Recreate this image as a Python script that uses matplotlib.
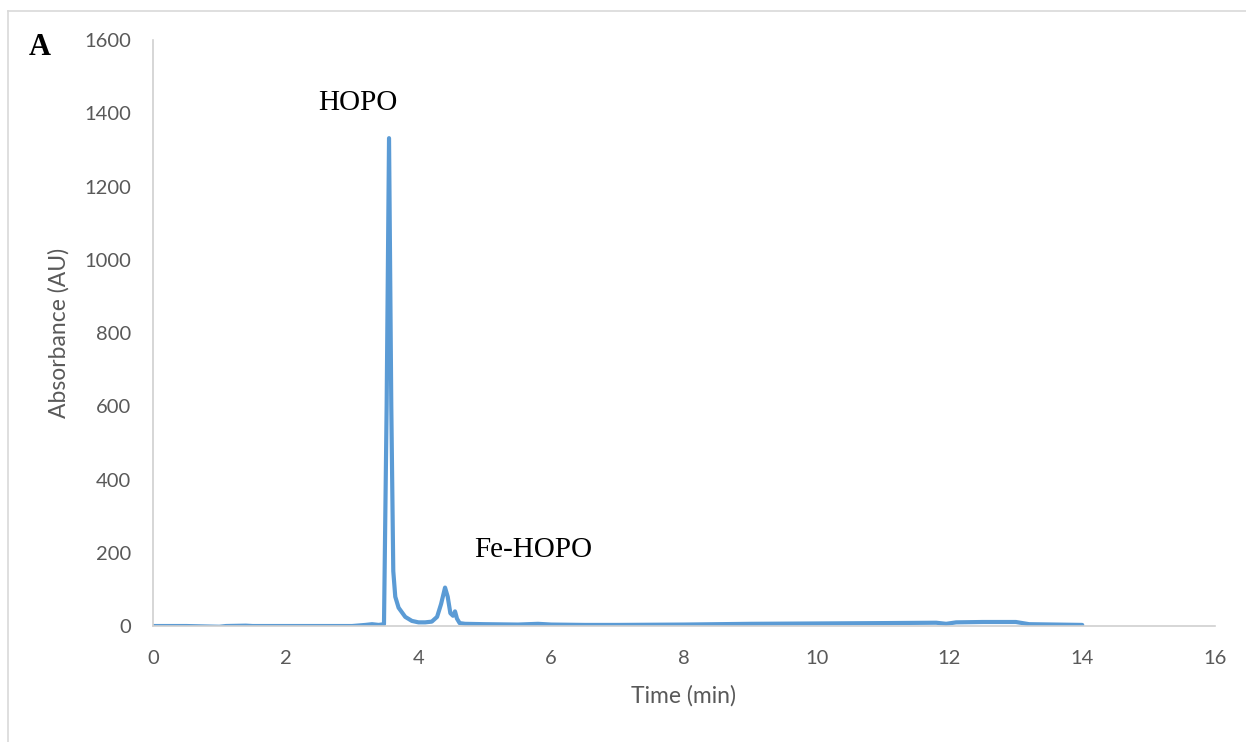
import matplotlib.pyplot as plt
from matplotlib.lines import Line2D

# chromatogram trace
time_min = [0, 0.5, 1.0, 1.1, 1.4, 1.5, 2.0, 2.5, 3.0, 3.2, 3.3, 3.4, 3.48,
            3.52, 3.556, 3.59, 3.62, 3.65, 3.70, 3.80, 3.90, 4.00, 4.10, 4.20,
            4.28, 4.34, 4.40, 4.44, 4.48, 4.52, 4.55, 4.58, 4.62, 4.70, 5.0,
            5.5, 5.8, 6.0, 6.5, 7, 8, 9, 10, 11, 11.8, 11.95, 12.1, 12.5, 13.0,
            13.2, 14.0]
absorbance = [0, 0, -2, 0, 1, 0, 0, 0, 0, 3, 5, 3, 5,
              600, 1332, 600, 150, 80, 50, 25, 14, 10, 10, 12,
              25, 60, 105, 80, 35, 28, 40, 20, 8, 6, 5,
              4, 6, 4, 3, 3, 4, 6, 7, 8, 9, 6, 10, 11, 11,
              5, 3]

peak_labels = ["HOPO", "Fe-HOPO"]
peak_label_pos = [(3.09, 1409), (5.73, 188)]

fig = plt.figure(figsize=(12.46, 7.42), dpi=100)
ax = fig.add_axes([0.1228, 0.1563, 0.8523, 0.7898])

ax.plot(time_min, absorbance, color="#5B9BD5", lw=3, solid_joinstyle="round",
        solid_capstyle="round")

ax.set_xlim(0, 16)
ax.set_ylim(0, 1600)
ax.set_xticks(range(0, 17, 2))
ax.set_yticks(range(0, 1601, 200))

for s in ["top", "right"]:
    ax.spines[s].set_visible(False)
for s in ["left", "bottom"]:
    ax.spines[s].set_color("#d0d0d0")
    ax.spines[s].set_linewidth(1.2)
ax.tick_params(length=0, labelsize=14.5, labelcolor="#595959")
ax.tick_params(axis="x", pad=17)
ax.tick_params(axis="y", pad=16)
for lab in ax.get_xticklabels() + ax.get_yticklabels():
    lab.set_family("Lato")

ax.set_xlabel("Time (min)", fontsize=16.5, color="#595959", family="Lato", labelpad=13)
ax.set_ylabel("Absorbance (AU)", fontsize=16.5, color="#595959", family="Lato", labelpad=10)

for txt, (x, y) in zip(peak_labels, peak_label_pos):
    ax.text(x, y, txt, ha="center", va="baseline", fontsize=21,
            family="Liberation Serif")

fig.text(0.023, 0.926, "A", fontsize=22, fontweight="bold", family="Liberation Serif")

# light frame around the figure (top and left edges)
fig.add_artist(Line2D([8 / 1246, 1], [1 - 11 / 742] * 2, color="#d9d9d9", lw=1.2,
                      transform=fig.transFigure))
fig.add_artist(Line2D([8 / 1246] * 2, [0, 1 - 11 / 742], color="#d9d9d9", lw=1.2,
                      transform=fig.transFigure))

fig.savefig("out.png", dpi=100)
